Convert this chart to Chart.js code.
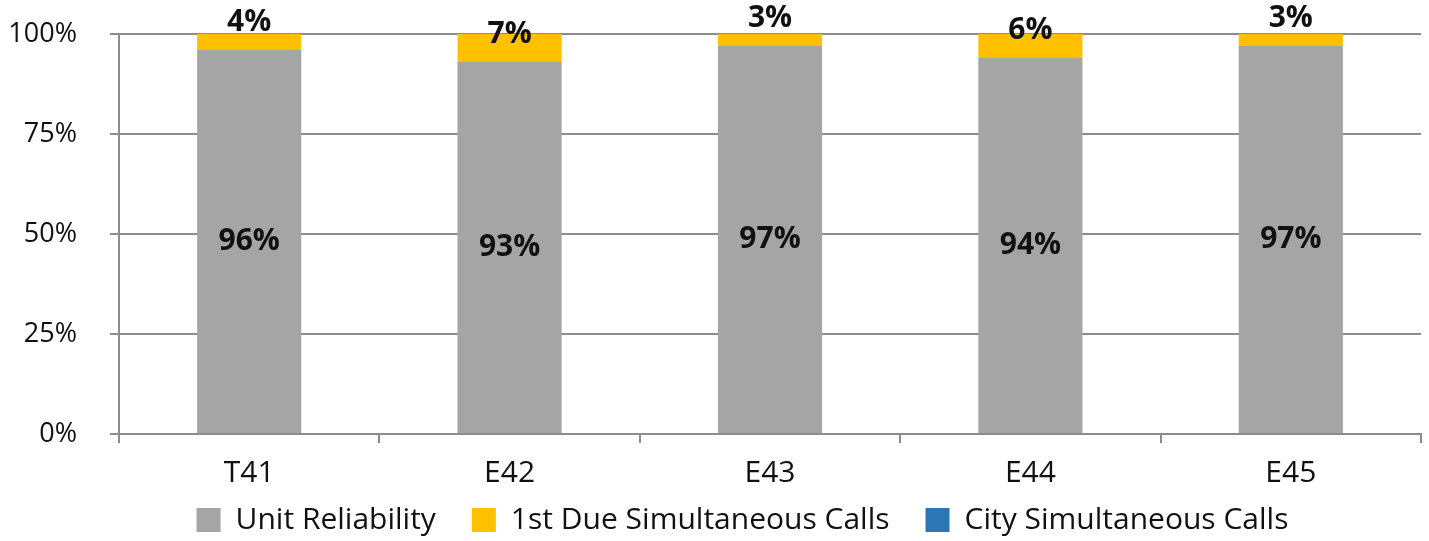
<!DOCTYPE html>
<html><head><meta charset="utf-8">
<script src="https://cdn.jsdelivr.net/npm/chart.js@4.4.1/dist/chart.umd.min.js"></script>
<style>html,body{margin:0;padding:0;background:#fff}#wrap{width:1429px;height:541px}</style>
</head><body><div id="wrap"><canvas id="c" width="1429" height="541"></canvas></div>
<script>
const categories = ["T41","E42","E43","E44","E45"];
const unitReliability = [96,93,97,94,97];
const firstDueSimultaneous = [4,7,3,6,3];
const citySimultaneous = [0,0,0,0,0];
const yTicks = [0,25,50,75,100];

const FONT = "'Open Sans', sans-serif";

const labelPlugin = {
  id: 'segLabels',
  afterDatasetsDraw(chart) {
    const ctx = chart.ctx;
    ctx.save();
    ctx.font = "bold 30px " + FONT;
    ctx.fillStyle = "#111";
    ctx.textAlign = "center";
    ctx.textBaseline = "middle";
    const m0 = chart.getDatasetMeta(0);
    const m1 = chart.getDatasetMeta(1);
    m0.data.forEach((bar, i) => {
      const top = bar.y, bottom = bar.base;
      ctx.fillText(unitReliability[i] + "%", bar.x, (top + bottom) / 2);
      if (firstDueSimultaneous[i] > 0) {
        ctx.fillText(firstDueSimultaneous[i] + "%", m1.data[i].x, top - 28);
      }
    });
    ctx.restore();
  }
};

// let x-axis labels extend below the compact axis box, and nudge the legend right
const layoutTweak = {
  id: 'layoutTweak',
  afterLayout(chart) {
    chart.scales.x.bottom = chart.height;
    const L = chart.legend;
    if (L) { L.left += 32; L.right += 32; }
  }
};

new Chart(document.getElementById('c'), {
  type: 'bar',
  data: {
    labels: categories,
    datasets: [
      {label: "Unit Reliability", data: unitReliability, backgroundColor: "#A5A5A5"},
      {label: "1st Due Simultaneous Calls", data: firstDueSimultaneous, backgroundColor: "#FFC000"},
      {label: "City Simultaneous Calls", data: citySimultaneous, backgroundColor: "#2E75B6"}
    ]
  },
  options: {
    responsive: false,
    animation: false,
    devicePixelRatio: 1,
    layout: {padding: {top: 34, right: 8, left: 0, bottom: -4}},
    datasets: {bar: {categoryPercentage: 0.4, barPercentage: 1.0}},
    plugins: {
      legend: {
        position: 'bottom',
        labels: {
          boxWidth: 24, boxHeight: 24, padding: 36,
          color: "#111",
          font: {family: FONT, size: 30}
        }
      },
      tooltip: {enabled: false}
    },
    scales: {
      x: {
        stacked: true,
        afterFit(s) { s.height = 35; },
        grid: {display: true, drawOnChartArea: false, drawTicks: true, tickLength: 9, offset: true, color: "#8c8c8c", lineWidth: 2},
        border: {display: true, color: "#8c8c8c", width: 2},
        ticks: {color: "#111", font: {family: FONT, size: 30}, padding: 12}
      },
      y: {
        stacked: true,
        min: 0, max: 100,
        afterFit(s) { s.width = 119; s.paddingTop = 0; s.paddingBottom = 0; },
        afterBuildTicks(s) { s.ticks = yTicks.map(v => ({value: v})); },
        grid: {color: "#8c8c8c", lineWidth: 2, tickLength: 9},
        border: {display: true, color: "#8c8c8c", width: 2},
        ticks: {color: "#111", font: {family: FONT, size: 27}, padding: 33, callback: v => v + "%"}
      }
    }
  },
  plugins: [labelPlugin, layoutTweak]
});
</script></body></html>
